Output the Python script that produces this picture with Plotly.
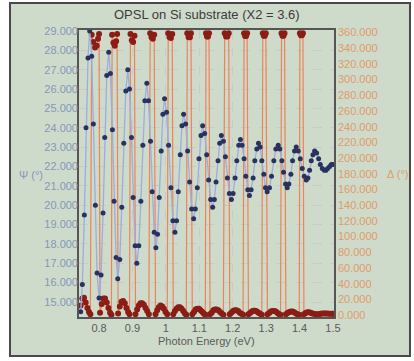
import plotly.graph_objects as go

# Psi spectrum (degrees) versus photon energy (eV)
psi_energy = [
    0.745, 0.750, 0.756, 0.761, 0.767, 0.772, 0.778, 0.783, 0.789, 0.794,
    0.800, 0.806, 0.812, 0.817, 0.823, 0.829, 0.834, 0.840, 0.845, 0.851,
    0.856, 0.862, 0.868, 0.874, 0.880, 0.886, 0.891, 0.897, 0.902, 0.908,
    0.913, 0.919, 0.925, 0.931, 0.937, 0.943, 0.948, 0.954, 0.959, 0.965,
    0.970, 0.975, 0.980, 0.986, 0.991, 0.996, 1.002, 1.008, 1.015, 1.021,
    1.027, 1.032, 1.037, 1.043, 1.048, 1.053, 1.059, 1.065, 1.071, 1.077,
    1.083, 1.088, 1.094, 1.099, 1.105, 1.110, 1.116, 1.122, 1.128, 1.134,
    1.140, 1.145, 1.150, 1.156, 1.161, 1.166, 1.172, 1.178, 1.184, 1.190,
    1.196, 1.201, 1.207, 1.212, 1.218, 1.223, 1.228, 1.234, 1.239, 1.245,
    1.250, 1.255, 1.261, 1.266, 1.272, 1.277, 1.282, 1.287, 1.293, 1.298,
    1.303, 1.310, 1.316, 1.323, 1.329, 1.336, 1.341, 1.347, 1.352, 1.358,
    1.363, 1.368, 1.374, 1.379, 1.385, 1.390, 1.396, 1.402, 1.408, 1.414,
    1.420, 1.425, 1.430, 1.435, 1.440, 1.445, 1.451, 1.457, 1.462, 1.468,
    1.474, 1.479, 1.484, 1.490, 1.495, 1.500,
]
psi_deg = [
    14.5, 15.9, 19.5, 24.0, 27.6, 29.0, 27.7, 24.2, 20.0, 16.5,
    15.2, 16.4, 19.6, 23.5, 26.7, 27.9, 26.8, 23.9, 20.2, 17.3,
    16.2, 17.2, 19.9, 23.2, 25.9, 27.0, 26.0, 23.5, 20.4, 17.9,
    17.0, 17.9, 20.2, 23.1, 25.4, 26.3, 25.4, 23.3, 20.7, 18.6,
    17.8, 18.5, 20.4, 22.8, 24.7, 25.5, 24.8, 23.1, 20.9, 19.2,
    18.6, 19.2, 20.7, 22.6, 24.1, 24.7, 24.2, 22.8, 21.2, 19.8,
    19.3, 19.8, 20.9, 22.4, 23.6, 24.1, 23.7, 22.6, 21.3, 20.3,
    19.9, 20.3, 21.2, 22.3, 23.2, 23.6, 23.3, 22.5, 21.4, 20.6,
    20.3, 20.6, 21.4, 22.3, 23.1, 23.4, 23.1, 22.4, 21.5, 20.8,
    20.5, 20.8, 21.4, 22.3, 22.9, 23.2, 23.0, 22.3, 21.6, 20.9,
    20.7, 20.9, 21.5, 22.3, 22.9, 23.1, 22.9, 22.3, 21.7, 21.1,
    20.9, 21.1, 21.6, 22.3, 22.8, 23.0, 22.8, 22.4, 21.9, 21.5,
    21.3, 21.4, 21.8, 22.3, 22.6, 22.8, 22.7, 22.4, 22.1, 21.9,
    21.8, 21.8, 21.9, 22.0, 22.1, 22.1,
]

# Delta spectrum (degrees, wrapped to 0..360) versus photon energy (eV)
delta_energy = [
    0.745, 0.750, 0.755, 0.760, 0.765, 0.770, 0.774,
    0.778, 0.783, 0.788, 0.793, 0.797, 0.800,
    0.803, 0.808, 0.813, 0.818, 0.823, 0.828, 0.833, 0.837,
    0.839, 0.843, 0.847, 0.851, 0.854,
    0.857, 0.862, 0.867, 0.872, 0.877, 0.882, 0.887, 0.891,
    0.894, 0.898, 0.902, 0.906,
    0.909, 0.914, 0.919, 0.924, 0.929, 0.934, 0.939, 0.944, 0.949,
    0.953, 0.957, 0.961, 0.965,
    0.969, 0.974, 0.979, 0.984, 0.989, 0.994, 0.999, 1.004,
    1.007, 1.011, 1.015, 1.019,
    1.022, 1.027, 1.032, 1.037, 1.042, 1.047, 1.052, 1.057, 1.061,
    1.064, 1.068, 1.072, 1.075,
    1.079, 1.084, 1.089, 1.094, 1.099, 1.104, 1.109, 1.114, 1.118,
    1.120, 1.123, 1.126, 1.129,
    1.132, 1.137, 1.142, 1.147, 1.152, 1.157, 1.162, 1.167, 1.172,
    1.176, 1.180, 1.184, 1.188,
    1.191, 1.196, 1.201, 1.206, 1.211, 1.216, 1.221, 1.226, 1.231,
    1.234, 1.237, 1.240, 1.243,
    1.247, 1.252, 1.257, 1.262, 1.267, 1.272, 1.277, 1.282, 1.287,
    1.290, 1.293, 1.296, 1.299,
    1.304, 1.309, 1.314, 1.319, 1.324, 1.329, 1.334, 1.339, 1.343,
    1.346, 1.349, 1.352, 1.355,
    1.359, 1.364, 1.369, 1.374, 1.379, 1.384, 1.389, 1.394, 1.399,
    1.401, 1.404, 1.407, 1.410,
    1.413, 1.418, 1.423, 1.428, 1.433, 1.438, 1.443, 1.448, 1.453,
    1.458, 1.463, 1.468, 1.473, 1.478, 1.483, 1.488, 1.493, 1.498, 1.500,
]
delta_deg = [
    12, 21, 22, 16, 9, 4, 1,
    357, 348, 341, 343, 352, 358,
    3, 14, 21, 21, 16, 9, 3, 0.5,
    357, 347, 343, 349, 358,
    2, 11, 17, 18, 15, 9, 4, 1,
    358, 350, 348, 356,
    1, 7, 12, 15, 15, 13, 9, 5, 1,
    359, 354, 352, 357,
    1, 6, 10, 12, 11, 8, 4, 1,
    359, 354, 353, 358,
    1, 5, 8, 10, 10, 8, 5, 2, 0.5,
    359, 354, 354, 359,
    1, 4, 7, 8, 8, 6, 4, 1.5, 0.5,
    359, 355, 355, 359,
    1, 3, 6, 7, 7, 6, 4, 2, 0.5,
    359, 355, 355, 359,
    1, 3, 5, 6, 6, 5, 3, 1.5, 0.5,
    359, 355.5, 355.5, 359,
    1, 2.5, 4.5, 5.5, 5.5, 4.5, 3, 1.5, 0.5,
    359, 356, 356, 359,
    1, 2.5, 4.5, 5, 5, 4.5, 2.5, 1, 0.5,
    359, 356, 356, 359,
    1, 2.5, 4, 4.5, 4.5, 3.5, 2, 1, 0.5,
    359, 356.5, 356.5, 359,
    1, 2.5, 3.5, 3.5, 3, 2, 1.5, 1, 1,
    1, 1.5, 2, 2, 2, 2, 1.5, 1.5, 1.5, 1.5,
]

energy_ticks = [0.8, 0.9, 1.0, 1.1, 1.2, 1.3, 1.4, 1.5]
energy_tick_text = ["0.8", "0.9", "1", "1.1", "1.2", "1.3", "1.4", "1.5"]
psi_ticks = list(range(15, 30))
delta_ticks = list(range(0, 361, 20))

FONT = "Liberation Sans, Arial, sans-serif"
PSI_TEXT = "#8796ba"
DELTA_TEXT = "#e29a68"

fig = go.Figure()

fig.add_trace(go.Scatter(
    x=delta_energy, y=delta_deg, yaxis="y",
    mode="lines+markers",
    line=dict(color="#ec8458", width=1.2),
    marker=dict(color="#8c1d14", size=6),
    showlegend=False,
))
fig.add_trace(go.Scatter(
    x=psi_energy, y=psi_deg, yaxis="y2",
    mode="lines+markers",
    line=dict(color="#9cadde", width=1.3),
    marker=dict(color="#28325f", size=5),
    showlegend=False,
))

fig.update_layout(
    width=414, height=361,
    margin=dict(l=79, r=80, t=30, b=44),
    paper_bgcolor="white",
    plot_bgcolor="#f7f2ef",
    font=dict(family=FONT, size=11, color="#555"),
    xaxis=dict(
        range=[0.740, 1.503],
        tickvals=energy_ticks, ticktext=energy_tick_text,
        showgrid=True, gridcolor="#c9c9c9", griddash="dash", gridwidth=1,
        showline=True, linecolor="#555", linewidth=1.5, mirror=True,
        zeroline=False, ticks="",
        tickfont=dict(size=11, color="#5a5a5a"),
    ),
    yaxis=dict(
        range=[-2.5, 363.2], side="right",
        tickvals=delta_ticks, tickformat=".3f",
        showgrid=False, zeroline=False, ticks="",
        showline=True, linecolor="#555", linewidth=1.5, mirror=True,
        tickfont=dict(size=11, color=DELTA_TEXT),
    ),
    yaxis2=dict(
        range=[14.225, 29.05], side="left", overlaying="y",
        tickvals=psi_ticks, tickformat=".3f",
        showgrid=True, gridcolor="#c9c9c9", griddash="dash", gridwidth=1,
        zeroline=False, ticks="",
        tickfont=dict(size=11, color=PSI_TEXT),
    ),
    shapes=[dict(
        type="rect", xref="paper", yref="paper", layer="below",
        x0=-0.2706, x1=1.298, y0=-0.136, y1=1.094,
        fillcolor="#cedbca", line=dict(color="#4a4a4a", width=2),
    )],
    annotations=[
        dict(text="OPSL on Si substrate (X2 = 3.6)", xref="paper", yref="paper",
             x=0.5, y=1.055, xanchor="center", yanchor="middle", showarrow=False,
             font=dict(size=13, color="#3c3c3c")),
        dict(text="Photon Energy (eV)", xref="paper", yref="paper",
             x=0.5, y=-0.084, xanchor="center", yanchor="middle", showarrow=False,
             font=dict(size=11, color="#5a5a5a")),
        dict(text="Ψ (°)", xref="paper", yref="paper",
             x=-0.243, y=0.495, xanchor="left", yanchor="middle", showarrow=False,
             font=dict(size=11, color=PSI_TEXT)),
        dict(text="Δ (°)", xref="paper", yref="paper",
             x=1.2, y=0.498, xanchor="left", yanchor="middle", showarrow=False,
             font=dict(size=11, color=DELTA_TEXT)),
    ],
)

fig.write_html("out.html")
